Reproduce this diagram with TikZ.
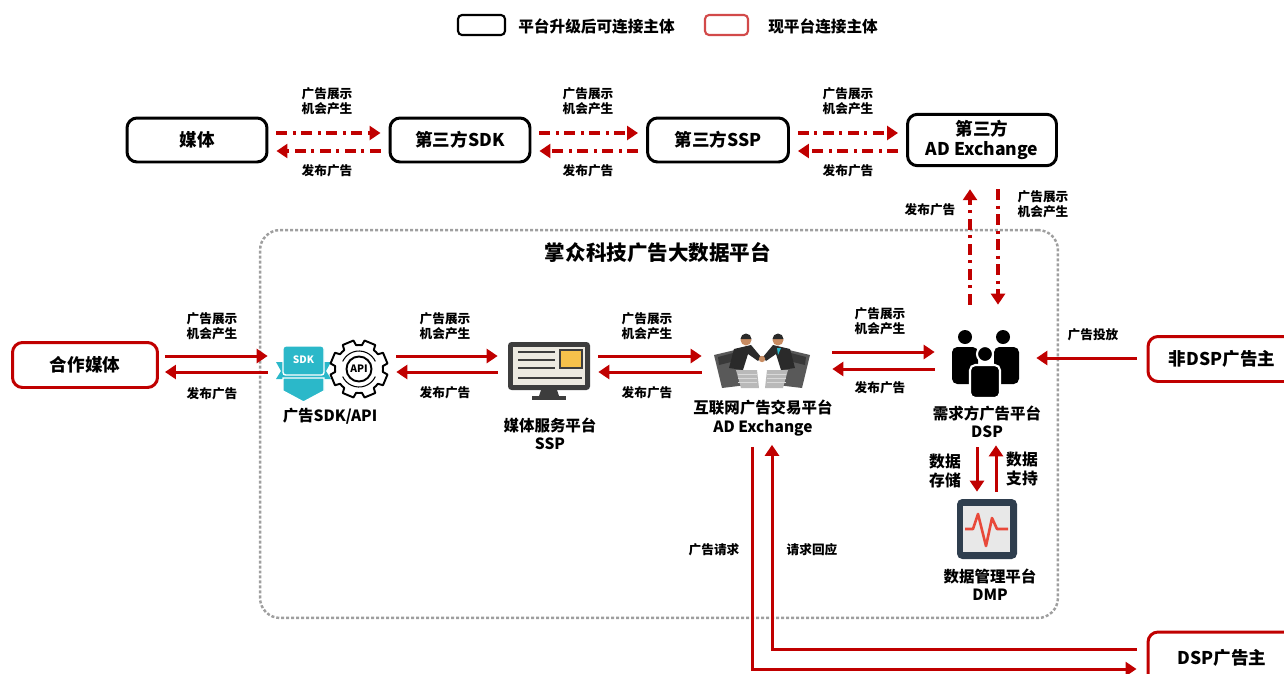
\documentclass[tikz,border=0pt]{standalone}
\usepackage{fontspec}
\setmainfont{Noto Sans CJK SC}
\usetikzlibrary{arrows.meta, positioning, calc}

\definecolor{adred}{HTML}{C00000}
\definecolor{keyred}{HTML}{D24A4A}
\definecolor{sdkcyan}{HTML}{2BB8C9}
\definecolor{frame}{HTML}{3D3D3D}
\definecolor{screen}{HTML}{ECE9E0}
\definecolor{note}{HTML}{F6C14B}
\definecolor{slate}{HTML}{2F3E4E}
\definecolor{pulse}{HTML}{E8493A}
\definecolor{skin}{HTML}{C88C62}
\definecolor{suit}{HTML}{2A2A2A}

\begin{document}
\begin{tikzpicture}[x=0.02cm, y=-0.02cm, font=\bfseries,
	box/.style={draw, line width=1.7pt, rounded corners=0.2cm, minimum height=0.88cm, align=center, font=\fontsize{10}{12}\bfseries},
	oldbox/.style={box, draw=black},
	newbox/.style={box, draw=adred},
	lbl/.style={align=center, inner sep=0pt, font=\fontsize{7.2}{8.5}\bfseries},
	iconlbl/.style={align=center, inner sep=0pt, font=\fontsize{8.8}{10.3}\bfseries},
	icon/.style={inner sep=0pt},
	dd/.style={adred, line width=2pt, dash pattern=on 0.22cm off 0.11cm on 0.06cm off 0.11cm, -{Triangle[length=0.22cm, width=0.28cm]}},
	link/.style={adred, line width=1.7pt, -{Triangle[length=0.22cm, width=0.28cm]}}]

				\useasboundingbox (0,0) rectangle (1284,673);
				\clip (0,0) rectangle (1284,673);

				% Legend
				\node[draw=black, line width=1.2pt, rounded corners=0.08cm, minimum width=0.94cm, minimum height=0.4cm] (keyold) at (481.5,25) {};
				\node[anchor=west, inner sep=0pt, font=\fontsize{8.9}{10}\bfseries] (keyoldtxt) at (518,26) {平台升级后可连接主体};
				\node[draw=keyred, line width=1.2pt, rounded corners=0.08cm, minimum width=0.86cm, minimum height=0.4cm] (keynew) at (726.5,25) {};
				\node[anchor=west, inner sep=0pt, font=\fontsize{8.9}{10}\bfseries] (keynewtxt) at (768,26) {现平台连接主体};

				% Third-party chain
				\node[oldbox, minimum width=2.8cm] (media) at (197,140) {媒体};
				\node[oldbox, minimum width=2.8cm] (sdkext) at (460,140) {第三方SDK};
				\node[oldbox, minimum width=2.82cm] (sspext) at (718,140) {第三方SSP};
				\node[oldbox, minimum width=2.98cm, font=\fontsize{10}{11.5}\bfseries] (adxext) at (982,140) {第三方\\AD Exchange};

				\foreach \a/\b/\m [count=\i] in {media/sdkext/327, sdkext/sspext/588, sspext/adxext/848} {
					\draw[dd] ($(\a.east)+(8,-7)$) -- ($(\b.west)+(-8,-7)$);
					\draw[dd] ($(\b.west)+(-8,11)$) -- ($(\a.east)+(8,11)$);
					\node[lbl] (extshow\i) at (\m,101) {广告展示\\机会产生};
					\node[lbl] (extpub\i) at (\m,171) {发布广告};
				}

				% Platform frame
				\node[draw=gray!75, line width=1.4pt, dash pattern=on 0.06cm off 0.04cm, rounded corners=0.4cm, minimum width=15.96cm, minimum height=7.76cm] (platform) at (659,424) {};
				\node[font=\fontsize{11.7}{13}\bfseries] (platformtitle) at (658,253) {掌众科技广告大数据平台};

				% Outside parties
				\node[newbox, minimum width=2.9cm, minimum height=0.9cm] (partner) at (85,365) {合作媒体};
				\node[newbox, minimum width=2.96cm, minimum height=0.9cm] (nondsp) at (1222,359) {非DSP广告主};
				\node[newbox, minimum width=2.96cm, minimum height=1.04cm] (dspadv) at (1222,658) {DSP广告主};

				% Icon nodes
				\node[icon, minimum width=2.2cm, minimum height=1.2cm] (sdkapi) at (332,370) {};
				\node[icon, minimum width=1.64cm, minimum height=1.2cm] (ssp) at (549,371) {};
				\node[icon, minimum width=1.96cm, minimum height=1.14cm] (adx) at (762,361) {};
				\node[icon, minimum width=1.44cm, minimum height=1.36cm] (dsp) at (986,364) {};
				\node[icon, minimum width=1.2cm, minimum height=1.2cm] (dmp) at (987,529) {};

				\node[iconlbl] (sdkapitxt) at (330,416) {广告SDK/API};
				\node[iconlbl] (ssptxt) at (550,434) {媒体服务平台\\SSP};
				\node[iconlbl] (adxtxt) at (763,418) {互联网广告交易平台\\AD Exchange};
				\node[iconlbl] (dsptxt) at (987,422) {需求方广告平台\\DSP};
				\node[iconlbl] (dmptxt) at (990,585) {数据管理平台\\DMP};

				% SDK badge and API gear
				\begin{scope}[shift={(sdkapi.center)}]
					\fill[sdkcyan] (-56,-8) -- (-1,-8) -- (-6,1) -- (-1,9) -- (-56,9) -- (-51,1) -- cycle;
					\filldraw[fill=sdkcyan, draw=white, line width=0.8pt, rounded corners=1.5] (-49,-24) rectangle (-8,5);
					\filldraw[fill=sdkcyan, draw=white, line width=0.8pt] (-49,8) -- (-8,8) -- (-8,21) -- (-28.5,32) -- (-49,21) -- cycle;
					\node[text=white, inner sep=0pt, font=\fontsize{5.8}{6}\bfseries] (sdklogo) at (-28.5,-10) {SDK};
					\draw[line width=1.1pt, line join=round, shift={(27,-1)}] (0:24)
						\foreach \a in {0,45,...,315} { -- (\a+7:24) -- (\a+11:29) -- (\a+34:29) -- (\a+38:24) -- (\a+45:24) } -- cycle;
					\draw[line width=1.1pt] (27,-1) circle[radius=12.5];
					\draw[line width=0.6pt] (27,-1) ++(25:18) arc[start angle=25, end angle=155, radius=18];
					\draw[line width=0.6pt] (27,-1) ++(205:18) arc[start angle=205, end angle=335, radius=18];
					\node[inner sep=0pt, font=\fontsize{5.8}{6}\bfseries] (apilogo) at (27,-1) {API};
				\end{scope}

				% SSP monitor
				\begin{scope}[shift={(ssp.center)}]
					\fill[frame, rounded corners=2] (-41,-29) rectangle (41,19);
					\fill[screen] (-36,-24) rectangle (36,14);
					\foreach \y in {-19,-11,-3}
						\draw[frame, line width=1.1pt] (-31,\y) -- (6,\y);
					\draw[frame, line width=1.1pt] (-31,7) -- (33,7);
					\filldraw[fill=note, draw=frame, line width=0.8pt] (11,-21) rectangle (33,-3);
					\fill[frame] (-8,19) -- (8,19) -- (10,25) -- (-10,25) -- cycle;
					\fill[frame] (-17,25) rectangle (17,29);
				\end{scope}

				% Exchange handshake
				\begin{scope}[shift={(adx.center)}]
					\foreach \s in {1,-1} {
						% laptop lid and keyboard
						\fill[gray!70!black] (-48*\s,-6) -- (-27*\s,-11) -- (-15*\s,24) -- (-40*\s,27) -- cycle;
						\fill[gray!45!black] (-44*\s,-4) -- (-29*\s,-8) -- (-27*\s,0) -- (-43*\s,4) -- cycle;
						\fill[gray!55] (-26*\s,9) -- (-5*\s,9) -- (-3*\s,27) -- (-21*\s,27) -- cycle;
						\foreach \k in {13,17,21}
							\draw[gray!30, line width=0.5pt] (-24*\s,\k) -- (-5*\s,\k);
						% businessman
						\fill[suit] (-28*\s,-12) -- (-11*\s,-16) -- (-1*\s,-4) -- (-4*\s,0) -- (-14*\s,-7) -- (-19*\s,9) -- (-33*\s,7) -- cycle;
						\fill[skin] (-16*\s,-21) circle[radius=5.5];
						\fill[suit] (-16*\s,-22) ++(-5.5,0) arc[start angle=180, end angle=360, radius=5.5] -- cycle;
					}
					\fill[sdkcyan] (15,-13) -- (19,-13) -- (16,-6) -- cycle;
					\fill[skin] (0,-2) circle[radius=3.2];
				\end{scope}

				% DSP group
				\begin{scope}[shift={(dsp.center)}]
					\fill (-21,-27) circle[radius=7];
					\fill (17,-27) circle[radius=7];
					\fill[rounded corners=3] (-34,20) -- (-34,-17) -- (-8,-17) -- (-8,20) -- cycle;
					\fill[rounded corners=3] (8,20) -- (8,-17) -- (33,-17) -- (33,20) -- cycle;
					\filldraw[draw=white, line width=1.2pt] (-1,-10) circle[radius=8];
					\filldraw[draw=white, line width=1.2pt, rounded corners=3] (-16,34) -- (-16,1) -- (14,1) -- (14,34) -- cycle;
				\end{scope}

				% DMP screen
				\begin{scope}[shift={(dmp.center)}]
					\fill[slate, rounded corners=3] (-30,-30) rectangle (30,30);
					\fill[gray!18] (-24,-23) rectangle (23,23);
					\draw[pulse, line width=1.5pt, line join=round] (-22,0) -- (-14,0) -- (-9,-15) -- (-1,17) -- (5,-11) -- (10,0) -- (21,0);
				\end{scope}

				% Main flow
				\draw[link] ($(partner.east |- 0,356)+(6,0)$) -- ($(sdkapi.west |- 0,356)+(-9,0)$);
				\draw[link] ($(sdkapi.west |- 0,372)+(-9,0)$) -- ($(partner.east |- 0,372)+(6,0)$);
				\draw[link] ($(sdkapi.east |- 0,356)+(9,0)$) -- ($(ssp.west |- 0,356)+(-10,0)$);
				\draw[link] ($(ssp.west |- 0,372)+(-10,0)$) -- ($(sdkapi.east |- 0,372)+(9,0)$);
				\draw[link] ($(ssp.east |- 0,356)+(8,0)$) -- ($(adx.west |- 0,356)+(-11,0)$);
				\draw[link] ($(adx.west |- 0,372)+(-11,0)$) -- ($(ssp.east |- 0,372)+(8,0)$);
				\draw[link] ($(adx.east |- 0,352)+(21,0)$) -- ($(dsp.west |- 0,352)+(-15,0)$);
				\draw[link] ($(dsp.west |- 0,369)+(-15,0)$) -- ($(adx.east |- 0,369)+(21,0)$);
				\draw[link] ($(nondsp.west |- 0,358)+(-10,0)$) -- ($(dsp.east |- 0,358)+(14,0)$);

				\foreach \m/\u/\d [count=\i] in {212/326/394, 445/326/393, 647/326/393, 880/321/388} {
					\node[lbl] (show\i) at (\m,\u) {广告展示\\机会产生};
					\node[lbl] (pub\i) at (\m,\d) {发布广告};
				}
				\node[lbl] (deliver) at (1093,335) {广告投放};

				% Link up to the third-party exchange
				\draw[dd] ($(dsp.north)+(-16,-25)$) -- ($(adxext.south)+(-12,22)$);
				\draw[dd] ($(adxext.south)+(16,22)$) -- ($(dsp.north)+(12,-25)$);
				\node[lbl] (extpub) at (930,210) {发布广告};
				\node[lbl] (extshow) at (1043,204) {广告展示\\机会产生};

				% DSP and DMP
				\draw[link] ($(dsp.south)+(-9,49)$) -- ($(dmp.north)+(-10,-7)$);
				\draw[link] ($(dmp.north)+(9,-7)$) -- ($(dsp.south)+(10,47)$);
				\node[iconlbl, font=\fontsize{9}{10.3}\bfseries] (store) at (945,471) {数据\\存储};
				\node[iconlbl, font=\fontsize{9}{10.3}\bfseries] (support) at (1022,469) {数据\\支持};

				% Requests from DSP advertisers
				\draw[link] ($(adx.south)+(-10,57)$) |- ($(dspadv.west)+(-10,11)$);
				\draw[link] ($(dspadv.west)+(-10,-9)$) -| ($(adx.south)+(10,55)$);
				\node[lbl] (request) at (714,550) {广告请求};
				\node[lbl] (reply) at (812,550) {请求回应};

			\end{tikzpicture}
\end{document}
